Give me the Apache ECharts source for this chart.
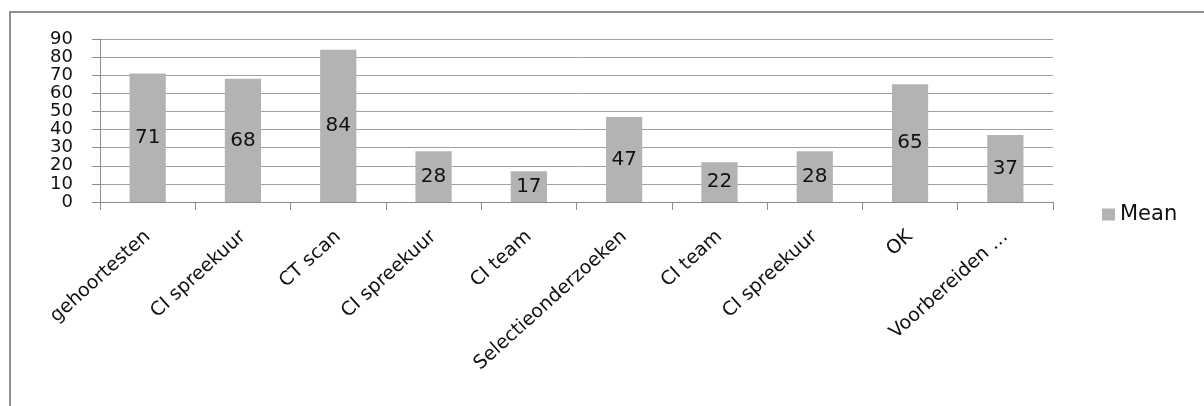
<!DOCTYPE html>
<html>
<head>
<meta charset="utf-8">
<title>Mean</title>
<script src="https://cdn.jsdelivr.net/npm/echarts@6/dist/echarts.min.js"></script>
<style>
	html, body { margin: 0; padding: 0; background: #fff; }
	#chart { width: 1204px; height: 406px; }
</style>
</head>
<body>
<div id="chart"></div>
<script>
// data
const categories = ['gehoortesten', 'CI spreekuur', 'CT scan', 'CI spreekuur', 'CI team',
	'Selectieonderzoeken', 'CI team', 'CI spreekuur', 'OK', 'Voorbereiden …'];
const meanValues = [71, 68, 84, 28, 17, 47, 22, 28, 65, 37];
const seriesName = 'Mean';
const yMin = 0;
const yMax = 90;
const yStep = 10;

const barColor = '#b3b3b3';
const gridColor = '#a0a0a0';
const axisColor = '#8c8c8c';
const textColor = '#111';
const fontFamily = '"DejaVu Sans", Verdana, sans-serif';

const chart = echarts.init(document.getElementById('chart'));

chart.setOption({
	animation: false,
	backgroundColor: '#fff',
	graphic: [{
		// outer frame, only left and top edges are in view
		type: 'rect',
		shape: { x: 10, y: 12, width: 1200, height: 400 },
		style: { fill: 'none', stroke: '#8f8f8f', lineWidth: 2 },
		silent: true,
	}],
	legend: {
		data: [seriesName],
		left: 1097,
		top: 199,
		icon: 'rect',
		itemWidth: 13,
		itemHeight: 12,
		textStyle: { color: textColor, fontSize: 21, fontFamily },
	},
	grid: {
		left: 100,
		right: 151,
		top: 39,
		bottom: 204,
		containLabel: false,
	},
	xAxis: {
		type: 'category',
		data: categories,
		axisLine: { lineStyle: { color: axisColor, width: 1 } },
		axisTick: { show: true, length: 8, lineStyle: { color: axisColor } },
		axisLabel: {
			rotate: 42,
			margin: 32,
			interval: 0,
			color: textColor,
			fontSize: 19,
			fontFamily,
		},
		splitLine: { show: false },
	},
	yAxis: {
		type: 'value',
		min: yMin,
		max: yMax,
		interval: yStep,
		axisLine: { show: true, lineStyle: { color: axisColor, width: 1 } },
		axisTick: { show: true, length: 8, lineStyle: { color: axisColor } },
		axisLabel: {
			margin: 27,
			interval: 0,
			showMinLabel: true,
			showMaxLabel: true,
			hideOverlap: false,
			color: textColor,
			fontSize: 18,
			lineHeight: 14,
			fontFamily,
		},
		splitLine: { show: true, lineStyle: { color: gridColor, width: 1 } },
	},
	series: [{
		name: seriesName,
		type: 'bar',
		data: meanValues,
		barWidth: '38%',
		itemStyle: { color: barColor },
		label: {
			show: true,
			position: 'inside',
			color: textColor,
			fontSize: 20,
			fontFamily,
		},
	}],
});
</script>
</body>
</html>
